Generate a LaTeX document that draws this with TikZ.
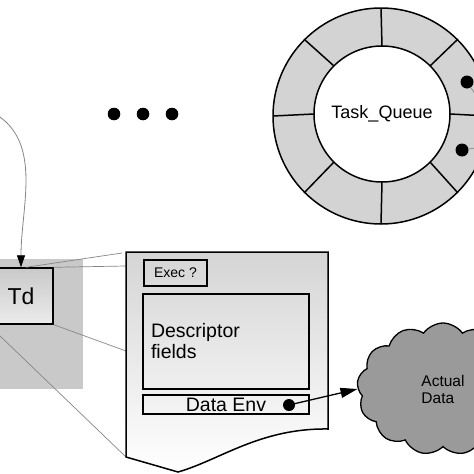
\documentclass[tikz,border=0pt]{standalone}
\usepackage{fontspec}
\setmainfont{Liberation Sans}
\usetikzlibrary{shapes.symbols,arrows.meta}

\definecolor{ringgray}{HTML}{D3D3D3}
\definecolor{backgray}{HTML}{C9C9C9}
\definecolor{cloudgray}{HTML}{9A9A9A}
\definecolor{linegray}{HTML}{858585}

\tikzset{
  box/.style={draw, line width=1.4pt, inner sep=0pt},
  zoomline/.style={draw=linegray, line width=0.7pt},
  blob/.style={circle, fill=black, inner sep=0pt, minimum size=13pt},
}

\begin{document}
\begin{tikzpicture}[x=1pt,y=-1pt]
      \useasboundingbox (0,0) rectangle (474,474);
      % task queue ring
      \node (ring) [circle, draw, line width=1.5pt, fill=ringgray, minimum size=216pt, outer sep=0pt] at (381,116) {};
      \node (queue) [circle, draw, line width=1.5pt, fill=white, minimum size=136pt, outer sep=0pt, font=\fontsize{18}{20}\selectfont] at (382,114) {Task\_Queue};
      \foreach \a in {0,45,...,315}
        \draw[line width=1.5pt] (queue.\a) -- (ring.\a);
      \node (slot1) [blob] at (467,82) {};
      \node (slot2) [blob] at (462,150) {};
      \coordinate (out1) at (482,104);
      \coordinate (out2) at (482,147);
      \path (slot1) edge [zoomline] (out1);
      \path (slot2) edge [zoomline] (out2);
      % more descriptors
      \foreach \x in {114,143,172}
        \fill (\x,114) circle (6.3pt);
      % magnified descriptor
      \fill[backgray] (-1,259) rectangle (83,389);
      \coordinate (src) at (-12,110);
      \coordinate (d1) at (122,253);
      \coordinate (d2) at (126,266);
      \coordinate (d3) at (126,351);
      \coordinate (d4) at (126,457);
      \coordinate (l4) at (-2,334);
      \node (td) [box, minimum width=64pt, minimum height=56pt, top color=backgray, bottom color=gray!15, font=\fontsize{23}{25}\selectfont] at (21,296) {Td};
      \path (src) edge [draw=linegray, line width=0.8pt, out=-25, in=90, -{Triangle[length=12pt,width=8pt,color=black]}] (td.north);
      \path ([xshift=5pt]td.north) edge [zoomline] (d1);
      \path (td.north east) edge [zoomline] (d2);
      \path (td.south east) edge [zoomline] (d3);
      \path (l4) edge [zoomline] (d4);
      \draw[line width=1.5pt, top color=gray!33, bottom color=white]
        (126,252) -- (328,252) -- (328,429)
        .. controls (260,428) and (220,460) .. (178,472) -- (126,457) -- cycle;
      \node (exec) [box, minimum width=63pt, minimum height=26pt, font=\fontsize{14}{16}\selectfont] at (175.5,273) {Exec ?};
      \node (fields) [box, minimum width=166pt, minimum height=95pt, text width=150pt, align=left, font=\fontsize{19.5}{21}\selectfont] at (226,341.5) {Descriptor\\fields};
      \node (env) [box, minimum width=166pt, minimum height=19pt, font=\fontsize{19.5}{19}\selectfont] at (226,404.5) {Data Env};
      \node (envdot) [blob, minimum size=12pt] at (289,405) {};
      % data
      \node (data) [cloud, draw, line width=1.3pt, fill=cloudgray, cloud puffs=13, cloud puff arc=110, aspect=1.3, minimum width=172pt, minimum height=132pt, align=left, font=\fontsize{15.5}{17}\selectfont] at (443,389) {Actual\\Data};
      \path (envdot.center) edge [line width=1.3pt, -{Triangle[length=17pt,width=10pt]}] (data.west);
\end{tikzpicture}
\end{document}
